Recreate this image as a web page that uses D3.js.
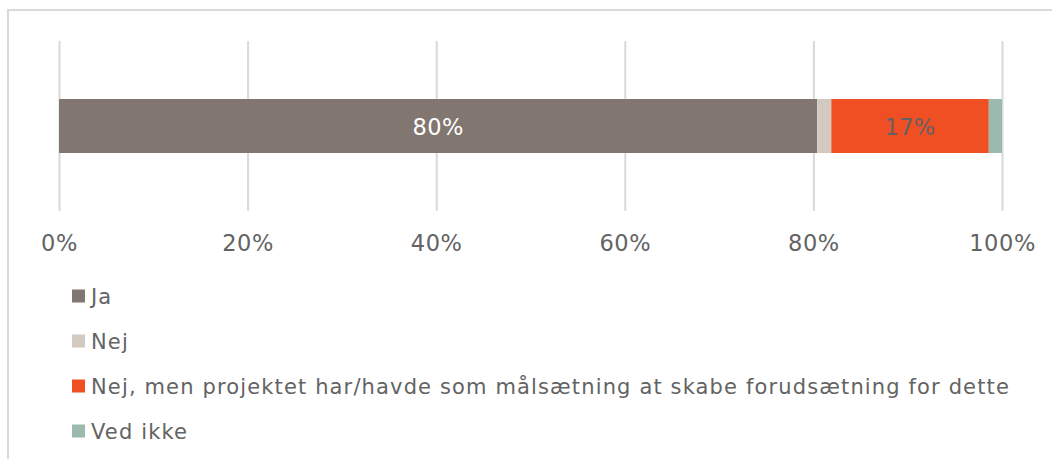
<!DOCTYPE html>
<html>
<head>
<meta charset="utf-8">
<script src="https://cdn.jsdelivr.net/npm/d3@7"></script>
<style>
  html, body { margin: 0; padding: 0; background: #fff; }
  svg { display: block; }
  text { font-family: Verdana, "DejaVu Sans", sans-serif; }
</style>
</head>
<body>
<svg id="chart" width="1052" height="459"></svg>
<script>
// Answer categories (stack order, left to right) and their shares in percent
const categories = [
  "Ja",
  "Nej",
  "Nej, men projektet har/havde som målsætning at skabe forudsætning for dette",
  "Ved ikke"
];
const shares = [80.4, 1.5, 16.7, 1.4];
const segmentLabels = ["80%", "", "17%", ""];
const colors = ["#817670", "#d2cac1", "#f04f24", "#9bb9ac"];
const tickValues = [0, 20, 40, 60, 80, 100];
const tickLabels = ["0%", "20%", "40%", "60%", "80%", "100%"];

const textColor = "#636363";
const svg = d3.select("#chart");
const W = 1052, H = 459;

// outer frame (top and left edges)
svg.append("path")
  .attr("d", `M8,${H} V10 H${W}`)
  .attr("fill", "none")
  .attr("stroke", "#d9d9d9")
  .attr("stroke-width", 2);

const x = d3.scaleLinear().domain([0, 100]).range([59, 1002]);
const gridTop = 41, gridBottom = 211;
const barTop = 99, barHeight = 54;

// gridlines + tick labels via axis
const axis = d3.axisBottom(x)
  .tickValues(tickValues)
  .tickFormat((d, i) => tickLabels[i])
  .tickSize(-(gridBottom - gridTop))
  .tickPadding(0);

const gAxis = svg.append("g")
  .attr("transform", `translate(0,${gridBottom})`)
  .call(axis);
gAxis.select(".domain").remove();
gAxis.selectAll(".tick line")
  .attr("stroke", "#d9d9d9")
  .attr("stroke-width", 2);
gAxis.selectAll(".tick text")
  .attr("y", 40)
  .attr("dy", 0)
  .attr("fill", textColor)
  .attr("font-size", "22.5px")
  .attr("letter-spacing", "0.6px");

// stacked segments
let acc = 0;
const segs = shares.map((v, i) => {
  const s = { i, x0: acc, x1: acc + v, v };
  acc += v;
  return s;
});

svg.append("g").selectAll("rect")
  .data(segs)
  .join("rect")
  .attr("x", d => x(d.x0))
  .attr("y", barTop)
  .attr("width", d => x(d.x1) - x(d.x0))
  .attr("height", barHeight)
  .attr("fill", d => colors[d.i]);

svg.append("g").selectAll("text")
  .data(segs.filter(d => segmentLabels[d.i]))
  .join("text")
  .attr("x", d => (x(d.x0) + x(d.x1)) / 2)
  .attr("y", barTop + barHeight / 2 + 9)
  .attr("text-anchor", "middle")
  .attr("font-size", "22.5px")
  .attr("letter-spacing", "0.4px")
  .attr("fill", d => d.i === 0 ? "#ffffff" : textColor)
  .text(d => segmentLabels[d.i]);

// legend
const legend = svg.append("g");
const rowY = [296, 341, 386, 431];
const legendTexts = [];
categories.forEach((c, i) => {
  legend.append("rect")
    .attr("x", 72)
    .attr("y", rowY[i] - 6.5)
    .attr("width", 13)
    .attr("height", 13)
    .attr("fill", colors[i]);
  legendTexts.push(legend.append("text")
    .attr("x", 91)
    .attr("y", rowY[i] + 8)
    .attr("font-size", "21px")
    .attr("fill", textColor)
    .text(c));
});

// widen legend text spacing so the longest entry spans to x≈1010
const longest = legendTexts[2];
const natural = longest.node().getComputedTextLength();
const n = categories[2].length;
const spacing = Math.max(0, (919 - natural) / n);
legendTexts.forEach(t => t.attr("letter-spacing", spacing + "px"));
</script>
</body>
</html>
